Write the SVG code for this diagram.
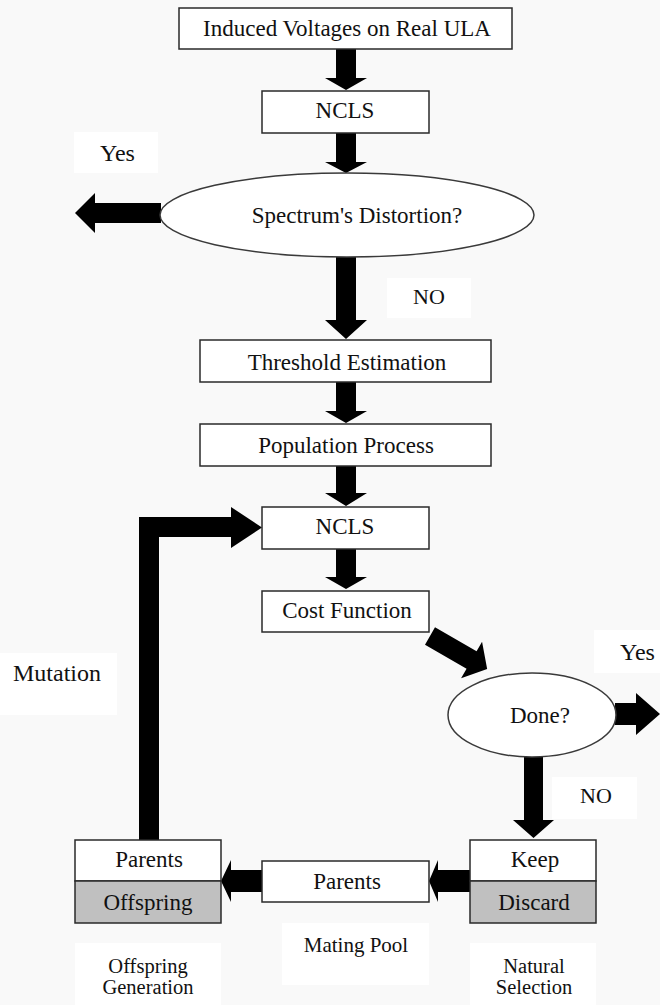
<svg xmlns="http://www.w3.org/2000/svg" width="660" height="1005" viewBox="0 0 660 1005">
<style>
.bg{fill:#f9f9f9}
.lab{fill:#ffffff}
.box{fill:#ffffff;stroke:#2a2a2a;stroke-width:1.5}
.gray{fill:#c0c0c0;stroke:#2a2a2a;stroke-width:1.5}
.ell{fill:#ffffff;stroke:#3a3a3a;stroke-width:1.5}
.arr{fill:#000000}
text{font-family:"Liberation Serif","Times New Roman",serif;font-size:23px;fill:#111111}
.c{text-anchor:middle}
.s{font-size:20.5px}
.n{font-size:22px}
.y{font-size:24px}
</style>
<rect class="bg" x="0" y="0" width="660" height="1005"/>
<g id="labels">
<rect class="lab" x="74" y="132" width="84" height="41"/>
<text class="c y" x="117.5" y="161">Yes</text>
<rect class="lab" x="387" y="278" width="84" height="40"/>
<text class="c n" x="429" y="304">NO</text>
<rect class="lab" x="594" y="630" width="66" height="43"/>
<text class="y" x="620" y="660">Yes</text>
<rect class="lab" x="0" y="653" width="117" height="62"/>
<text class="y" x="13" y="681">Mutation</text>
<rect class="lab" x="552" y="777" width="85" height="42"/>
<text class="c n" x="596" y="803">NO</text>
<rect class="lab" x="282" y="923" width="147" height="62"/>
<text class="c" style="font-size:21px" x="356" y="952">Mating Pool</text>
<rect class="lab" x="75" y="943" width="146" height="62"/>
<text class="c s" x="148" y="973">Offspring</text>
<text class="c s" x="148" y="994">Generation</text>
<rect class="lab" x="470" y="943" width="126" height="62"/>
<text class="c s" x="534" y="973">Natural</text>
<text class="c s" x="534" y="994">Selection</text>
</g>
<g id="connectors">
<polygon class="arr" points="336,49 356,49 356,78 367,78 346,90 325,78 336,78"/>
<polygon class="arr" points="336,133 356,133 356,162 367,162 346,173 325,162 336,162"/>
<polygon class="arr" points="336,257 356,257 356,320 367,320 346,339 325,320 336,320"/>
<polygon class="arr" points="336,382 356,382 356,411 367,411 346,423 325,411 336,411"/>
<polygon class="arr" points="336,466 356,466 356,493 367,493 346,506 325,493 336,493"/>
<polygon class="arr" points="336,549 356,549 356,577 367,577 346,589 325,577 336,577"/>
<polygon class="arr" points="161,203 95,203 95,193 75,213 95,233 95,223 161,223"/>
<polygon class="arr" transform="translate(430,636) rotate(30)" points="0,-10 48,-10 48,-21 66,0 48,21 48,10 0,10"/>
<polygon class="arr" points="615,703 636,703 636,693 660,714 636,735 636,725 615,725"/>
<polygon class="arr" points="524,756 543,756 543,820 554,820 533.5,838 513,820 524,820"/>
<polygon class="arr" points="471,870 438,870 438,860 429,881 438,902 438,892 471,892"/>
<polygon class="arr" points="262,870 231,870 231,860 221,881 231,902 231,892 262,892"/>
<polygon class="arr" points="139,841 139,517 231,517 231,507 262,527.5 231,548 231,537 159,537 159,841"/>
</g>
<g id="induced">
<rect class="box" x="179" y="8" width="333" height="41"/>
<text class="c" x="347" y="36">Induced Voltages on Real ULA</text>
</g>
<g id="ncls1">
<rect class="box" x="262" y="91" width="167" height="42"/>
<text class="c" x="345" y="118">NCLS</text>
</g>
<g id="spectrum">
<ellipse class="ell" cx="347" cy="215" rx="187" ry="42"/>
<text class="c" x="357" y="223">Spectrum's Distortion?</text>
</g>
<g id="threshold">
<rect class="box" x="200" y="340" width="291" height="42"/>
<text class="c" x="347" y="370">Threshold Estimation</text>
</g>
<g id="population">
<rect class="box" x="200" y="424" width="291" height="42"/>
<text class="c" x="346" y="453">Population Process</text>
</g>
<g id="ncls2">
<rect class="box" x="262" y="507" width="167" height="42"/>
<text class="c" x="345" y="534">NCLS</text>
</g>
<g id="cost">
<rect class="box" x="262" y="591" width="167" height="41"/>
<text class="c" x="347" y="618">Cost Function</text>
</g>
<g id="done">
<ellipse class="ell" cx="532" cy="715" rx="84" ry="42"/>
<text class="c" x="540" y="723">Done?</text>
</g>
<g id="keepdiscard">
<rect class="box" x="470" y="840" width="126" height="41"/>
<rect class="gray" x="470" y="881" width="126" height="42"/>
<text class="c" x="535" y="867">Keep</text>
<text class="c" x="534" y="910">Discard</text>
</g>
<g id="matingparents">
<rect class="box" x="262" y="861" width="167" height="41"/>
<text class="c" x="347" y="889">Parents</text>
</g>
<g id="parentsoffspring">
<rect class="box" x="75" y="840" width="146" height="41"/>
<rect class="gray" x="75" y="881" width="146" height="42"/>
<text class="c" x="149" y="867">Parents</text>
<text class="c" x="148" y="910">Offspring</text>
</g>
</svg>
